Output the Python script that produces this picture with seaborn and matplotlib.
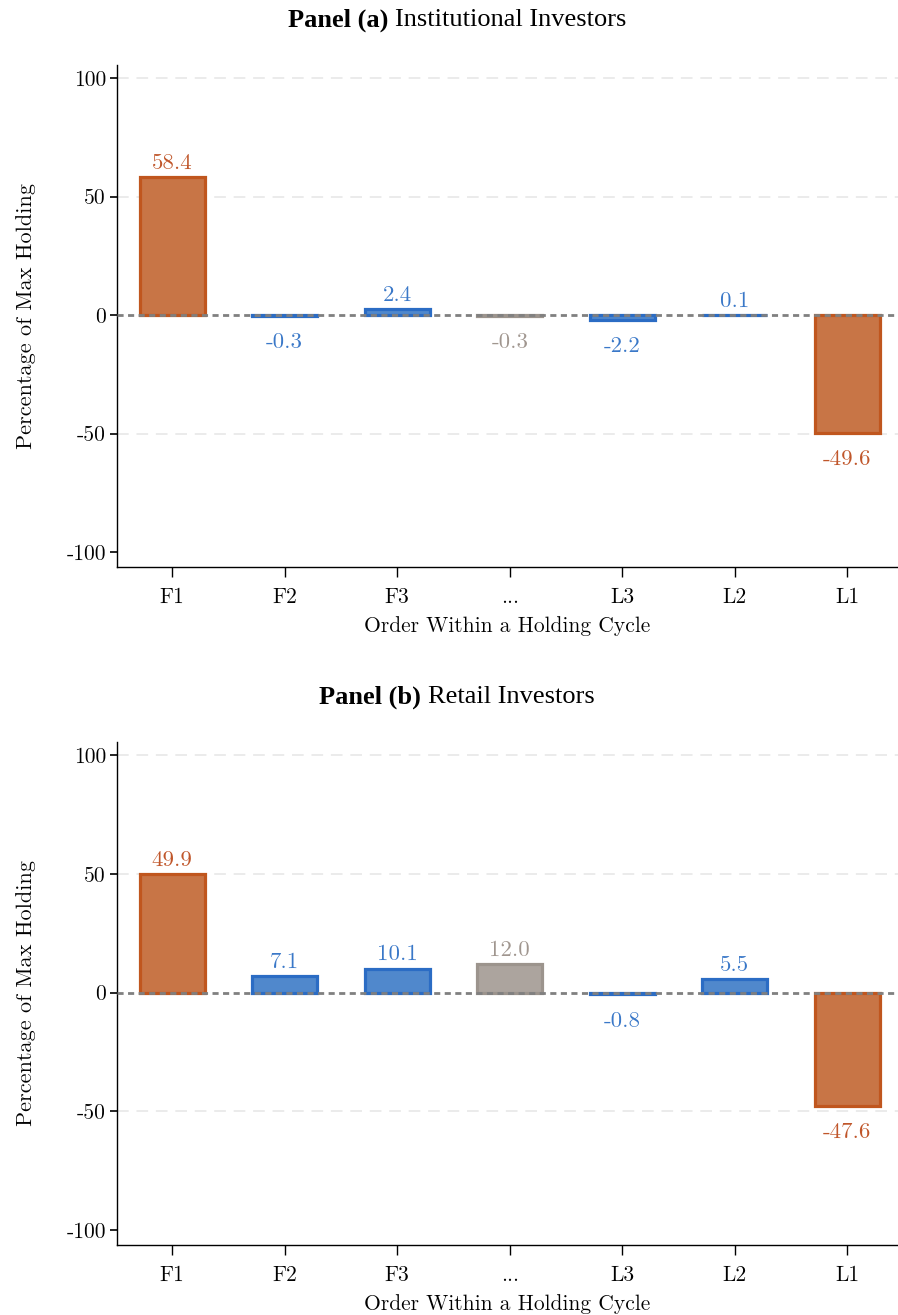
import matplotlib
matplotlib.use("Agg")
import matplotlib.pyplot as plt
import seaborn as sns
import pandas as pd

categories = ["F1", "F2", "F3", "...", "L3", "L2", "L1"]
inst_values = [58.4, -0.3, 2.4, -0.3, -2.2, 0.1, -49.6]
retail_values = [49.9, 7.1, 10.1, 12.0, -0.8, 5.5, -47.6]
groups = ["end", "mid", "mid", "gap", "mid", "mid", "end"]
y_ticks = [-100, -50, 0, 50, 100]
y_ticklabels = ["-100", "-50", "0", "50", "100"]
titles = [("Panel (a)", "Institutional Investors"), ("Panel (b)", "Retail Investors")]

fill_col = {"end": "#C87546", "mid": "#5088CC", "gap": "#ACA49E"}
edge_col = {"end": "#C0561E", "mid": "#2B6CC4", "gap": "#9C948D"}
text_col = {"end": "#C0562A", "mid": "#3A78C8", "gap": "#A0968F"}

sns.set_theme(style="white")
plt.rcParams["font.family"] = ["Latin Modern Roman", "DejaVu Serif"]

fig = plt.figure(figsize=(8.98, 13.15), dpi=100)
W, H = 898, 1315

def make_axes(top_px, bottom_px):
    left = 117 / W
    return fig.add_axes([left, 1 - bottom_px / H, 1 - left, (bottom_px - top_px) / H])

layout = [(inst_values, 65, 567, 20), (retail_values, 742, 1245, 697)]

fs_tick = 15.5
fs_val = 16.5
title_cx = 457
renderer = fig.canvas.get_renderer()
for (values, top_px, bot_px, title_px), (tb, tr) in zip(layout, titles):
    ax = make_axes(top_px, bot_px)
    df = pd.DataFrame({"order": categories, "val": values})
    pal = [fill_col[g] for g in groups]
    sns.barplot(data=df, x="order", y="val", hue="order", palette=pal,
                legend=False, width=0.58, ax=ax, linewidth=2.0, saturation=1,
                order=categories, hue_order=categories)
    for cont, g in zip(ax.containers, groups):
        for p in cont:
            p.set_edgecolor(edge_col[g])
            p.set_linewidth(2.3)
            p.set_zorder(3)
    for i, (v, g) in enumerate(zip(values, groups)):
        off = 3 if v >= 0 else -12
        ax.annotate(f"{v:.1f}", xy=(i, v), xytext=(0, off), textcoords="offset points",
                    ha="center", va="bottom" if v >= 0 else "top",
                    color=text_col[g], fontsize=fs_val, zorder=5)
    for yv in [100, 50, -50]:
        ax.axhline(yv, color="#EBEBEB", lw=1.4, ls=(0, (6, 4)), zorder=1)
    ax.axhline(0, color="#808080", lw=2.0, ls=(0, (2.2, 1.6)), zorder=4)
    ax.set_ylim(-106.3, 105.5)
    ax.set_xlim(-0.49, 6.45)
    ax.set_yticks(y_ticks)
    ax.set_yticklabels(y_ticklabels)
    ax.set_xticks(range(len(categories)))
    ax.set_xticklabels(categories)
    ax.tick_params(axis="both", labelsize=fs_tick, colors="black")
    ax.tick_params(axis="y", direction="out", length=5, width=1.2, left=True, pad=3)
    ax.tick_params(axis="x", direction="out", length=7, width=1.0, bottom=True, pad=8)
    for s in ["top", "right"]:
        ax.spines[s].set_visible(False)
    for s in ["left", "bottom"]:
        ax.spines[s].set_color("black")
        ax.spines[s].set_linewidth(1.0)
    ax.set_xlabel("Order Within a Holding Cycle", fontsize=fs_tick, labelpad=6, color="black")
    ax.set_ylabel("Percentage of Max Holding", fontsize=16, labelpad=22, color="black")
    ax.grid(False)
    # two-part title: bold + regular, centred together
    yfig = 1 - title_px / H
    t1 = fig.text(0, yfig, tb + " ", ha="left", va="center", fontsize=19,
                  family="Liberation Serif", weight="bold", color="black")
    t2 = fig.text(0, yfig, tr, ha="left", va="center", fontsize=19,
                  family="Liberation Serif", color="black")
    w1 = t1.get_window_extent(renderer).width
    w2 = t2.get_window_extent(renderer).width
    x0 = title_cx - (w1 + w2) / 2
    t1.set_x(x0 / W)
    t2.set_x((x0 + w1) / W)

fig.savefig("out.png", dpi=100)
